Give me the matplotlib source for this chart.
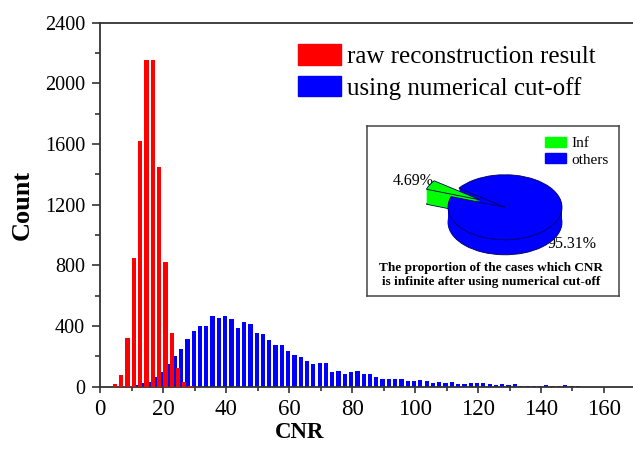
import matplotlib
matplotlib.use("Agg")
import matplotlib.pyplot as plt
import numpy as np
from matplotlib.patches import Patch
from matplotlib.ticker import MultipleLocator

# histograma sin corte numerico (bins de 2, arrancan en 4)
raw_start = 4
raw_counts = [18, 80, 322, 848, 1620, 2150, 2155, 1450, 824, 353, 125, 28, 4]

# histograma con corte numerico (bins de 2, arrancan en 11)
cut_start = 11
cut_counts = [11, 26, 33, 62, 94, 149, 201, 250, 313, 365, 403, 403, 467, 450,
              464, 444, 389, 429, 411, 356, 348, 311, 278, 273, 236, 208, 195,
              170, 152, 157, 157, 98, 103, 83, 94, 101, 83, 83, 62, 53, 48, 50,
              48, 39, 39, 42, 37, 26, 29, 24, 31, 20, 20, 24, 24, 24, 18, 13,
              18, 11, 18, 7, 7, 7, 7, 11, 7, 7, 11, 4, 4]

legend_labels = ["raw reconstruction result", "using numerical cut-off"]

# pastel del recuadro
pie_values = [4.69, 95.31]
pie_labels = ["Inf", "others"]
pie_texts = ["4.69%", "95.31%"]
caption = "The proportion of the cases which CNR\nis infinite after using numerical cut-off"

W, H = 633, 449
plt.rcParams["font.family"] = ["Liberation Serif", "DejaVu Serif"]


def caja(x0, y0, x1, y1):
    # convierte un recuadro en pixeles (origen arriba) a fracciones de figura
    return [x0 / W, 1 - y1 / H, (x1 - x0) / W, (y1 - y0) / H]


fig = plt.figure(figsize=(W / 100, H / 100), dpi=100)
ax = fig.add_axes(caja(100.3, 22.5, 100.3 + 170 * 3.148, 386.7))

raw_x = raw_start + 2 * np.arange(len(raw_counts))
cut_x = cut_start + 2 * np.arange(len(cut_counts))
ax.bar(cut_x, cut_counts, width=1.35, align="edge", color="#0000ff",
       label=legend_labels[1], zorder=2)
ax.bar(raw_x, raw_counts, width=1.35, align="edge", color="#ff0000",
       label=legend_labels[0], zorder=3)

ax.set_xlim(0, 170)
ax.set_ylim(0, 2400)
ax.xaxis.set_major_locator(MultipleLocator(20))
ax.xaxis.set_minor_locator(MultipleLocator(10))
ax.yaxis.set_major_locator(MultipleLocator(400))
ax.yaxis.set_minor_locator(MultipleLocator(200))
ax.tick_params(which="both", direction="out", color="#333333", width=1.2,
               top=False, right=False)
ax.tick_params(axis="x", which="major", length=4, labelsize=16.5, pad=4.5)
ax.tick_params(axis="x", which="minor", length=3)
ax.tick_params(axis="y", which="major", length=6, labelsize=14.5, pad=5)
ax.tick_params(axis="y", which="minor", length=3.5)
ax.spines["right"].set_visible(False)
for lado in ["left", "bottom", "top"]:
    ax.spines[lado].set_color("#333333")
    ax.spines[lado].set_linewidth(1.3)

fig.text(22 / W, 1 - 205 / H, "Count", rotation=90, fontsize=19,
         fontweight="bold", ha="center", va="center")
fig.text(300 / W, 1 - 433 / H, "CNR", fontsize=16.5, fontweight="bold",
         ha="center", va="center")

ax.legend(handles=[Patch(color="#ff0000"), Patch(color="#0000ff")],
          labels=legend_labels, loc="upper left",
          bbox_to_anchor=(298 / W, 1 - 44 / H), bbox_transform=fig.transFigure,
          frameon=False, fontsize=18, handlelength=1.72, handleheight=0.9,
          handletextpad=0.25, labelspacing=0.3, borderpad=0,
          borderaxespad=0)

# recuadro con el pastel
ax_in = fig.add_axes(caja(367, 126, 619, 296), zorder=5)
ax_in.set_xlim(367, 619)
ax_in.set_ylim(296, 126)
ax_in.set_xticks([])
ax_in.set_yticks([])
for sp in ax_in.spines.values():
    sp.set_color("#444444")
    sp.set_linewidth(1.1)
ax_in.text(413, 181, pie_texts[0], fontsize=11.5, ha="center", va="center")
ax_in.text(572, 244, pie_texts[1], fontsize=11.5, ha="center", va="center")
ax_in.text(491, 275, caption, fontsize=9.5, fontweight="bold", ha="center",
           va="center", linespacing=1.2)
ax_in.legend(handles=[Patch(color="#00ff00"), Patch(color="#0000ff")],
             labels=pie_labels, loc="upper left", bbox_to_anchor=(545, 137),
             bbox_transform=ax_in.transData, frameon=False, fontsize=11,
             handlelength=1.4, handleheight=0.6, handletextpad=0.3,
             labelspacing=0.2, borderpad=0, borderaxespad=0)

ax_pie = fig.add_axes(caja(391, 158.5, 619, 265.8), zorder=6)
colores_pie = ["#00ff00", "#0000ff"]
profundidad = 15 / 32.5
for dy in np.linspace(profundidad, 0, 16):
    borde = "#00005a" if dy in (profundidad, 0) else "none"
    ax_pie.pie(pie_values, colors=colores_pie, startangle=144,
               explode=[0.49, 0], center=(0, -dy), radius=1,
               wedgeprops=dict(linewidth=0.6, edgecolor=borde))
ax_pie.set_aspect("auto")
ax_pie.set_xlim(-2, 2)
ax_pie.set_ylim(-1.8, 1.5)
ax_pie.axis("off")

fig.savefig("out.png", dpi=100)
